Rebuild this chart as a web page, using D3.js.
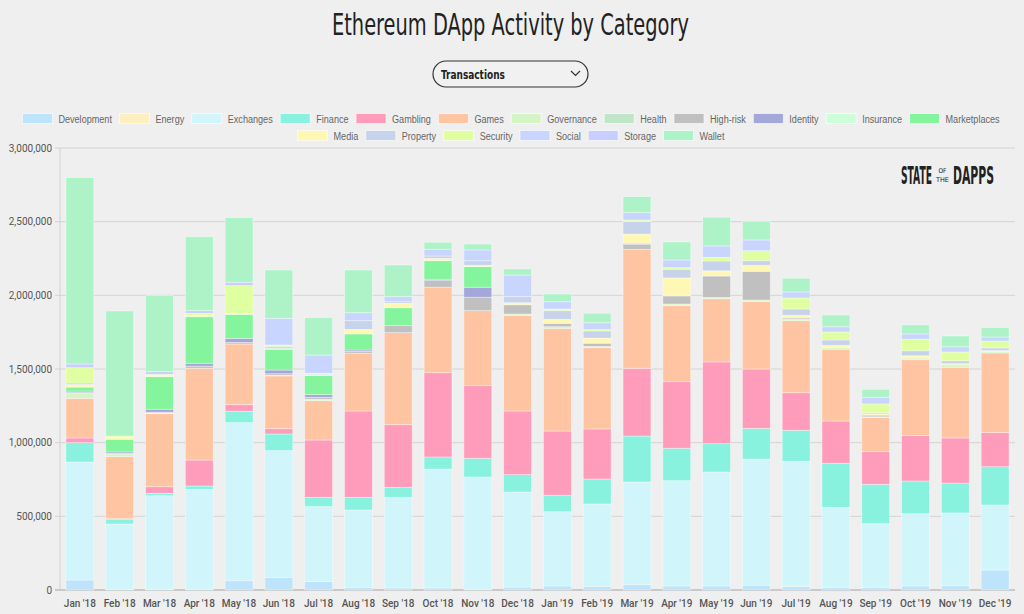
<!DOCTYPE html>
<html>
<head>
<meta charset="utf-8">
<script src="https://cdn.jsdelivr.net/npm/d3@7"></script>
<style>
    html, body { margin: 0; padding: 0; background: #efefef; }
    svg { display: block; }
    .narrow { font-family: "DejaVu Sans Condensed", "DejaVu Sans", sans-serif; font-stretch: condensed; }
</style>
</head>
<body>
<svg id="chart" width="1024" height="614"></svg>
<script>
// values in thousands of transactions, Jan '18 .. Dec '19
const months = ["Jan '18", "Feb '18", "Mar '18", "Apr '18", "May '18", "Jun '18", "Jul '18", "Aug '18", "Sep '18", "Oct '18", "Nov '18", "Dec '18",
    "Jan '19", "Feb '19", "Mar '19", "Apr '19", "May '19", "Jun '19", "Jul '19", "Aug '19", "Sep '19", "Oct '19", "Nov '19", "Dec '19"];

const categories = ["Development", "Energy", "Exchanges", "Finance", "Gambling", "Games", "Governance", "Health", "High-risk",
    "Identity", "Insurance", "Marketplaces", "Media", "Property", "Security", "Social", "Storage", "Wallet"];

const development  = [68, 3, 3, 3, 63, 86, 57, 18, 14, 14, 5, 20, 27, 25, 36, 27, 27, 32, 23, 18, 18, 27, 29, 136];
const energy       = [0, 0, 0, 0, 0, 0, 0, 0, 0, 0, 0, 0, 0, 0, 0, 0, 0, 0, 0, 0, 0, 0, 0, 0];
const exchanges    = [801, 445, 637, 680, 1073, 860, 509, 525, 615, 807, 762, 645, 505, 559, 697, 715, 774, 857, 851, 543, 432, 491, 494, 441];
const finance      = [131, 32, 16, 23, 77, 113, 63, 86, 68, 82, 127, 118, 111, 169, 312, 220, 192, 208, 210, 299, 267, 222, 203, 260];
const gambling     = [32, 4, 45, 176, 45, 36, 389, 586, 425, 572, 495, 432, 436, 340, 460, 452, 555, 403, 255, 287, 222, 308, 306, 231];
const games        = [269, 421, 496, 623, 412, 358, 267, 392, 625, 580, 507, 649, 697, 552, 807, 516, 429, 459, 489, 487, 231, 515, 480, 541];
const governance   = [34, 18, 5, 0, 0, 5, 10, 0, 0, 0, 0, 9, 11, 8, 0, 11, 9, 9, 12, 13, 6, 12, 12, 11];
const health       = [0, 0, 0, 0, 0, 0, 0, 0, 0, 0, 0, 0, 0, 0, 0, 0, 0, 0, 0, 0, 0, 0, 0, 0];
const highRisk     = [5, 4, 5, 14, 10, 10, 13, 12, 47, 45, 91, 63, 23, 22, 34, 55, 145, 195, 8, 0, 8, 0, 6, 0];
const identity     = [10, 10, 20, 20, 28, 25, 18, 10, 0, 9, 68, 0, 0, 0, 7, 0, 0, 0, 0, 0, 4, 0, 0, 0];
const insurance    = [0, 0, 0, 0, 0, 0, 0, 0, 0, 0, 0, 0, 0, 0, 0, 0, 0, 0, 0, 0, 0, 0, 0, 0];
const marketplaces = [27, 86, 221, 316, 163, 141, 131, 109, 122, 126, 140, 0, 0, 0, 0, 0, 0, 0, 0, 0, 0, 0, 0, 0];
const media        = [18, 12, 8, 10, 7, 5, 5, 31, 30, 16, 9, 14, 27, 35, 63, 122, 36, 41, 17, 14, 8, 15, 6, 5];
const property     = [10, 0, 0, 0, 0, 12, 4, 59, 10, 16, 31, 41, 59, 48, 84, 59, 66, 31, 42, 36, 8, 34, 20, 18];
const security     = [104, 10, 8, 13, 188, 12, 5, 0, 0, 0, 0, 0, 11, 9, 11, 11, 25, 68, 75, 54, 59, 78, 59, 47];
const social       = [0, 0, 0, 0, 0, 181, 124, 54, 35, 46, 73, 147, 50, 47, 50, 52, 77, 73, 41, 36, 45, 36, 36, 27];
const storage      = [25, 0, 18, 18, 23, 0, 0, 0, 0, 0, 0, 0, 0, 0, 0, 0, 0, 0, 0, 0, 0, 0, 0, 0];
const wallet       = [1265, 849, 516, 502, 438, 328, 253, 290, 215, 47, 40, 41, 52, 64, 109, 122, 195, 126, 93, 79, 54, 61, 73, 64];

const yTicks = [0, 500000, 1000000, 1500000, 2000000, 2500000, 3000000];

const colors = ["#bde4fb", "#fdefbf", "#d0f5fb", "#88f2de", "#ff9cbb", "#ffc5a3", "#d6f5c6", "#bfe6c8", "#c0c0c0",
    "#a4a7d9", "#ccffd8", "#84f59c", "#fff8b4", "#c7d3ea", "#dfffa0", "#c8d6ff", "#c8cfff", "#aef3c8"];

const series = [development, energy, exchanges, finance, gambling, games, governance, health, highRisk,
    identity, insurance, marketplaces, media, property, security, social, storage, wallet];

const rows = months.map((m, i) => {
    const row = { month: m };
    categories.forEach((c, k) => { row[c] = series[k][i] * 1000; });
    return row;
});

const svg = d3.select("#chart");
const color = d3.scaleOrdinal().domain(categories).range(colors);

const plotLeft = 60, plotRight = 1015, plotTop = 148, plotBottom = 590;

const x = d3.scaleBand()
    .domain(months)
    .range([plotLeft, plotRight])
    .paddingInner(0.3)
    .paddingOuter(0.15);

const y = d3.scaleLinear()
    .domain([0, 3000000])
    .range([plotBottom, plotTop]);

// texte écrasé horizontalement à une largeur donnée
function squeezed(parent, str, px, py, size, width, weight) {
    const g = parent.append("g");
    const t = g.append("text")
        .attr("class", "narrow")
        .attr("font-size", size)
        .attr("font-weight", weight)
        .text(str);
    const sx = width / t.node().getComputedTextLength();
    g.attr("transform", `translate(${px},${py}) scale(${sx},1)`);
    return t;
}

// titre
squeezed(svg, "Ethereum DApp Activity by Category", 332, 35, 30, 357, "normal")
    .attr("fill", "#222");

// menu déroulant
const dd = svg.append("g");
dd.append("rect")
    .attr("x", 433).attr("y", 61)
    .attr("width", 155).attr("height", 26)
    .attr("rx", 13)
    .attr("fill", "#f1f1f1")
    .attr("stroke", "#333")
    .attr("stroke-width", 1.2);
squeezed(dd, "Transactions", 441, 78.5, 12.5, 64, "bold")
    .attr("fill", "#222");
dd.append("path")
    .attr("d", "M571,71 L575.5,75.5 L580,71")
    .attr("fill", "none")
    .attr("stroke", "#333")
    .attr("stroke-width", 1.2);

// légende : police de 11px resserrée pour que la 1re ligne fasse ~978px
const legend = svg.append("g")
    .attr("font-family", "'Liberation Sans', Arial, sans-serif")
    .attr("font-size", 11)
    .attr("fill", "#666");

const legendRows = [categories.slice(0, 12), categories.slice(12)];
const rowY = [118.5, 135.5];
const gap = 7.5;

const probe = legend.append("text");
const natural = name => probe.text(name).node().getComputedTextLength();
const row0Text = d3.sum(legendRows[0], natural);
const squeeze = (978 - 12 * 36 - 11 * gap) / row0Text;
probe.remove();

legendRows.forEach((names, r) => {
    const items = legend.append("g");
    let cx = 0;
    names.forEach(name => {
        items.append("rect")
            .attr("x", cx).attr("y", rowY[r] - 5)
            .attr("width", 30).attr("height", 10)
            .attr("fill", color(name))
            .attr("stroke", "#fff")
            .attr("stroke-opacity", 0.6);
        const tg = items.append("g")
            .attr("transform", `translate(${cx + 36},${rowY[r] + 4}) scale(${squeeze},1)`);
        const t = tg.append("text").text(name);
        cx += 36 + t.node().getComputedTextLength() * squeeze + gap;
    });
    const w = cx - gap;
    items.attr("transform", `translate(${(1022 - w) / 2},0)`);
});

// grille et axe y
svg.append("g")
    .selectAll("line")
    .data(yTicks)
    .enter()
    .append("line")
    .attr("x1", plotLeft - 5)
    .attr("x2", plotRight)
    .attr("y1", d => y(d))
    .attr("y2", d => y(d))
    .attr("stroke", d => d === 0 ? "#bdbdbd" : "#d4d4d4")
    .attr("stroke-width", d => d === 0 ? 1.6 : 1);

svg.append("line")
    .attr("x1", plotLeft).attr("x2", plotLeft)
    .attr("y1", plotTop).attr("y2", plotBottom)
    .attr("stroke", "#cfcfcf");

svg.append("g")
    .selectAll("text")
    .data(yTicks)
    .enter()
    .append("text")
    .attr("x", plotLeft - 8)
    .attr("y", d => y(d) + 3.5)
    .attr("text-anchor", "end")
    .attr("font-family", "Roboto, sans-serif")
    .attr("font-size", 10)
    .attr("fill", "#555")
    .text(d => d3.format(",")(d));

// logo
const logo = svg.append("g").attr("fill", "#222");
squeezed(logo, "STATE", 901, 184, 24, 31, "bold");
squeezed(logo, "OF", 938.5, 173, 6.5, 8, "normal");
squeezed(logo, "THE", 936, 181.5, 6.5, 13, "normal");
squeezed(logo, "DAPPS", 953, 184, 24, 41, "bold");

// barres empilées
const stacked = d3.stack().keys(categories)(rows);

svg.append("g")
    .selectAll("g")
    .data(stacked)
    .enter()
    .append("g")
    .attr("fill", d => color(d.key))
    .selectAll("rect")
    .data(d => d.filter(p => p[1] > p[0]))
    .enter()
    .append("rect")
    .attr("x", d => x(d.data.month))
    .attr("y", d => y(d[1]))
    .attr("width", x.bandwidth())
    .attr("height", d => y(d[0]) - y(d[1]))
    .attr("stroke", "#ffffff")
    .attr("stroke-opacity", 0.45)
    .attr("stroke-width", 0.8);

// axe x
svg.append("g")
    .selectAll("text")
    .data(months)
    .enter()
    .append("text")
    .attr("x", d => x(d) + x.bandwidth() / 2)
    .attr("y", 607)
    .attr("text-anchor", "middle")
    .attr("font-family", "Roboto, sans-serif")
    .attr("font-weight", 500)
    .attr("font-size", 10)
    .attr("fill", "#555")
    .text(d => d);
</script>
</body>
</html>
